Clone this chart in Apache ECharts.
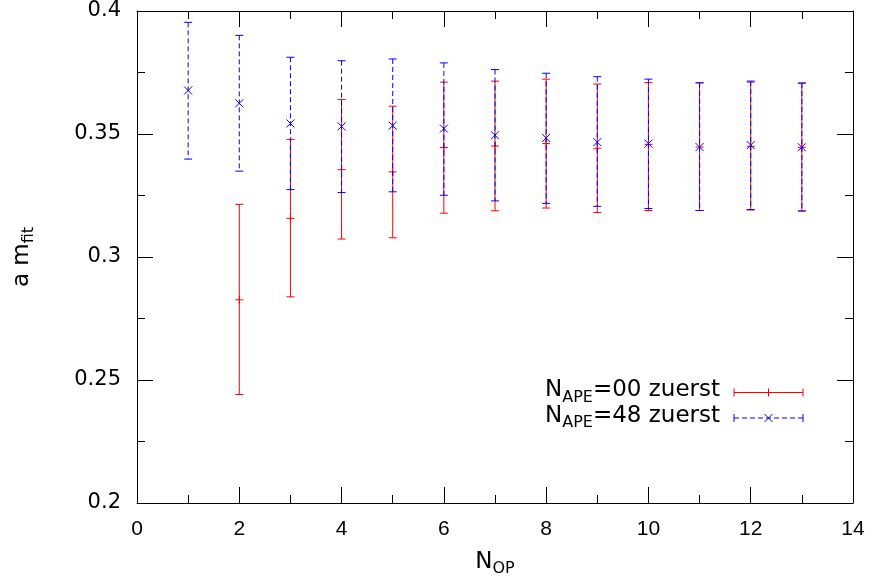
<!DOCTYPE html>
<html>
<head>
<meta charset="utf-8">
<script src="https://cdn.jsdelivr.net/npm/echarts@6/dist/echarts.min.js"></script>
<style>
html,body{margin:0;padding:0;background:#fff;}
#chart{width:872px;height:588px;}
</style>
</head>
<body>
<div id="chart"></div>
<script>
// ---- data ----
const nOp00 = [2, 3, 4, 5, 6, 7, 8, 9, 10, 11, 12, 13];
const val00 = [0.2826, 0.3157, 0.3355, 0.3346, 0.3445, 0.3451, 0.3461, 0.3442, 0.3458, 0.3447, 0.3450, 0.3446];
const lo00  = [0.2441, 0.2838, 0.3073, 0.3078, 0.3178, 0.3188, 0.3199, 0.3181, 0.3189, 0.3189, 0.3191, 0.3187];
const hi00  = [0.3214, 0.3478, 0.3640, 0.3613, 0.3711, 0.3715, 0.3723, 0.3703, 0.3709, 0.3708, 0.3711, 0.3707];

const nOp48 = [1, 2, 3, 4, 5, 6, 7, 8, 9, 10, 11, 12, 13];
const val48 = [0.3677, 0.3625, 0.3543, 0.3531, 0.3534, 0.3522, 0.3495, 0.3484, 0.3467, 0.3461, 0.3447, 0.3455, 0.3446];
const lo48  = [0.3398, 0.3349, 0.3274, 0.3262, 0.3265, 0.3251, 0.3228, 0.3218, 0.3206, 0.3197, 0.3189, 0.3193, 0.3187];
const hi48  = [0.3954, 0.3901, 0.3812, 0.3798, 0.3805, 0.3789, 0.3762, 0.3747, 0.3733, 0.3723, 0.3708, 0.3715, 0.3707];

const seriesNames = ['N_APE=00 zuerst', 'N_APE=48 zuerst'];

const RED = '#ff0000', BLUE = '#0000ff';
const FONT = 'Liberation Sans, Arial, sans-serif';
const WFONT = 'DejaVu Sans, sans-serif';
const DASH = [5, 3];

function rows(xs, ys, los, his) {
  return xs.map((x, i) => [x, ys[i], los[i], his[i]]);
}

function errRenderer(color, dashed, marker) {
  return function (params, api) {
    const x = api.value(0);
    const pc = api.coord([x, api.value(1)]);
    const pl = api.coord([x, api.value(2)]);
    const ph = api.coord([x, api.value(3)]);
    const w = 4;
    const lineStyle = { stroke: color, lineWidth: 1, lineDash: dashed ? DASH : null, fill: null };
    const solid = { stroke: color, lineWidth: 1, fill: null };
    const ch = [
      { type: 'line', shape: { x1: pc[0], y1: ph[1], x2: pc[0], y2: pl[1] }, style: lineStyle },
      { type: 'line', shape: { x1: pc[0] - w, y1: ph[1], x2: pc[0] + w, y2: ph[1] }, style: solid },
      { type: 'line', shape: { x1: pc[0] - w, y1: pl[1], x2: pc[0] + w, y2: pl[1] }, style: solid }
    ];
    if (marker === 'plus') {
      ch.push({ type: 'line', shape: { x1: pc[0] - w, y1: pc[1], x2: pc[0] + w, y2: pc[1] }, style: solid });
      ch.push({ type: 'line', shape: { x1: pc[0], y1: pc[1] - w, x2: pc[0], y2: pc[1] + w }, style: solid });
    } else {
      ch.push({ type: 'line', shape: { x1: pc[0] - w, y1: pc[1] - w, x2: pc[0] + w, y2: pc[1] + w }, style: solid });
      ch.push({ type: 'line', shape: { x1: pc[0] - w, y1: pc[1] + w, x2: pc[0] + w, y2: pc[1] - w }, style: solid });
    }
    return { type: 'group', children: ch };
  };
}

const rich = {
  n: { fontSize: 23, fontFamily: WFONT, color: '#000', lineHeight: 30 },
  s: { fontSize: 16, fontFamily: WFONT, color: '#000', lineHeight: 16, verticalAlign: 'bottom' }
};

function richName(str) {
  const m = str.match(/^(.*?)_([A-Za-z]+)(.*)$/);
  if (!m) return '{n|' + str + '}';
  return '{n|' + m[1] + '}{s|' + m[2] + '}' + (m[3] ? '{n|' + m[3] + '}' : '');
}

const xAxisCommon = {
  type: 'value', min: 0, max: 14, interval: 2,
  axisLine: { show: true, onZero: false, lineStyle: { color: '#000', width: 1 } },
  axisTick: { show: true, inside: true, length: 16, lineStyle: { color: '#000', width: 1 } },
  minorTick: { show: true, splitNumber: 2, length: 8, lineStyle: { color: '#000', width: 1 } },
  splitLine: { show: false }
};
const yAxisCommon = {
  type: 'value', min: 0.2, max: 0.4, interval: 0.05,
  axisLine: { show: true, onZero: false, lineStyle: { color: '#000', width: 1 } },
  axisTick: { show: true, inside: true, length: 16, lineStyle: { color: '#000', width: 1 } },
  minorTick: { show: true, splitNumber: 2, length: 8, lineStyle: { color: '#000', width: 1 } },
  splitLine: { show: false }
};

const legendX0 = 734, legendX1 = 803, legendTextX = 720;
const legendY = [392.5, 418];

function legendSample(y, color, dashed, marker) {
  const w = 4, xm = (legendX0 + legendX1) / 2;
  const lineStyle = { stroke: color, lineWidth: 1, lineDash: dashed ? DASH : null };
  const solid = { stroke: color, lineWidth: 1 };
  const els = [
    { type: 'line', shape: { x1: legendX0, y1: y, x2: legendX1, y2: y }, style: lineStyle },
    { type: 'line', shape: { x1: legendX0, y1: y - w, x2: legendX0, y2: y + w }, style: solid },
    { type: 'line', shape: { x1: legendX1, y1: y - w, x2: legendX1, y2: y + w }, style: solid }
  ];
  if (marker === 'plus') {
    els.push({ type: 'line', shape: { x1: xm, y1: y - w, x2: xm, y2: y + w }, style: solid });
  } else {
    els.push({ type: 'line', shape: { x1: xm - w, y1: y - w, x2: xm + w, y2: y + w }, style: solid });
    els.push({ type: 'line', shape: { x1: xm - w, y1: y + w, x2: xm + w, y2: y - w }, style: solid });
  }
  return els;
}

const chart = echarts.init(document.getElementById('chart'), null, { renderer: 'canvas' });
chart.setOption({
  animation: false,
  backgroundColor: '#fff',
  grid: { left: 137, right: 19, top: 11, bottom: 85, containLabel: false },
  xAxis: [
    Object.assign({}, xAxisCommon, {
      position: 'bottom',
      name: richName('N_OP'), nameLocation: 'middle', nameGap: 44,
      nameTextStyle: { rich: rich },
      axisLabel: { show: true, margin: 16, fontSize: 21, fontFamily: FONT, color: '#000' }
    }),
    Object.assign({}, xAxisCommon, { position: 'top', axisLabel: { show: false } })
  ],
  yAxis: [
    Object.assign({}, yAxisCommon, {
      position: 'left',
      name: richName('a m_fit'), nameLocation: 'middle', nameGap: 100, nameRotate: 90,
      nameTextStyle: { rich: rich },
      axisLabel: { show: true, margin: 16, fontSize: 21, fontFamily: WFONT, color: '#000' }
    }),
    Object.assign({}, yAxisCommon, { position: 'right', axisLabel: { show: false } })
  ],
  graphic: [
    {
      type: 'text', x: legendTextX, y: legendY[0] - 2,
      style: { text: richName(seriesNames[0]), rich: rich, align: 'right', verticalAlign: 'middle' }
    },
    {
      type: 'text', x: legendTextX, y: legendY[1] - 2,
      style: { text: richName(seriesNames[1]), rich: rich, align: 'right', verticalAlign: 'middle' }
    }
  ].concat(legendSample(legendY[0], RED, false, 'plus'))
   .concat(legendSample(legendY[1], BLUE, true, 'cross')),
  series: [
    {
      name: seriesNames[0], type: 'custom', xAxisIndex: 0, yAxisIndex: 0,
      renderItem: errRenderer(RED, false, 'plus'),
      encode: { x: 0, y: [1, 2, 3] },
      data: rows(nOp00, val00, lo00, hi00), z: 2
    },
    {
      name: seriesNames[1], type: 'custom', xAxisIndex: 0, yAxisIndex: 0,
      renderItem: errRenderer(BLUE, true, 'cross'),
      encode: { x: 0, y: [1, 2, 3] },
      data: rows(nOp48, val48, lo48, hi48), z: 3
    }
  ]
});
</script>
</body>
</html>
